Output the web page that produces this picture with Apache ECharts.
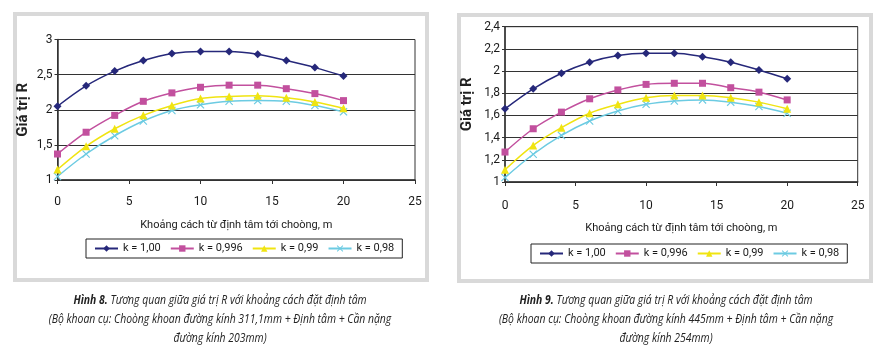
<!DOCTYPE html>
<html>
<head>
<meta charset="utf-8">
<script src="https://cdn.jsdelivr.net/npm/echarts@6/dist/echarts.min.js"></script>
<style>
  html, body { margin: 0; padding: 0; background: #fff; }
  #chart { width: 880px; height: 350px; }
</style>
</head>
<body>
<div id="chart"></div>
<script>
// khoảng cách (m)
const distances = [0, 2, 4, 6, 8, 10, 12, 14, 16, 18, 20];
const seriesNames = ['k = 1,00', 'k = 0,996', 'k = 0,99', 'k = 0,98'];

// Hình 8
const h8_k100 = [2.05, 2.34, 2.55, 2.70, 2.80, 2.83, 2.83, 2.79, 2.70, 2.60, 2.48];
const h8_k0996 = [1.37, 1.68, 1.92, 2.12, 2.24, 2.32, 2.35, 2.35, 2.30, 2.23, 2.13];
const h8_k099 = [1.15, 1.48, 1.73, 1.92, 2.06, 2.16, 2.19, 2.20, 2.17, 2.11, 2.02];
const h8_k098 = [1.05, 1.37, 1.63, 1.84, 1.99, 2.07, 2.12, 2.13, 2.12, 2.06, 1.97];

// Hình 9
const h9_k100 = [1.66, 1.84, 1.98, 2.08, 2.14, 2.16, 2.16, 2.13, 2.08, 2.01, 1.93];
const h9_k0996 = [1.27, 1.48, 1.63, 1.75, 1.83, 1.88, 1.89, 1.89, 1.85, 1.81, 1.74];
const h9_k099 = [1.11, 1.33, 1.49, 1.62, 1.70, 1.76, 1.78, 1.78, 1.76, 1.72, 1.66];
const h9_k098 = [1.04, 1.25, 1.42, 1.55, 1.64, 1.70, 1.73, 1.74, 1.72, 1.68, 1.62];

const colors = ['#26287a', '#c2509e', '#f0e411', '#6ccbe2'];
const symbols = [
  'diamond',
  'rect',
  'triangle',
  'path://M0,1L1,0L5,4L9,0L10,1L6,5L10,9L9,10L5,6L1,10L0,9L4,5Z'
];
const symbolSizes = [8, 7, 8, 8];

const font = 'Roboto, "Liberation Sans", sans-serif';
const textColor = '#1a1a1a';

function fmt(v) {
  return String(Number(v.toFixed(2))).replace('.', ',');
}

function makeSeries(list, idx) {
  return list.map(function (vals, i) {
    return {
      name: seriesNames[i],
      type: 'line',
      xAxisIndex: idx,
      yAxisIndex: idx,
      data: distances.map(function (d, j) { return [d, vals[j]]; }),
      smooth: 0.35,
      symbol: symbols[i],
      symbolSize: symbolSizes[i],
      showSymbol: true,
      lineStyle: { color: colors[i], width: 1.5 },
      itemStyle: { color: colors[i] },
      animation: false,
      z: 10 - i
    };
  });
}

function xAxisCfg(idx, margin, gap) {
  return {
    gridIndex: idx,
    type: 'value',
    min: 0, max: 25, interval: 5,
    name: 'Khoảng cách từ định tâm tới choòng, m',
    nameLocation: 'middle',
    nameGap: gap,
    nameTextStyle: { fontFamily: font, fontSize: 11, color: textColor },
    axisLine: { lineStyle: { color: '#333', width: 1.5 } },
    axisTick: { show: true, inside: false, length: 4, lineStyle: { color: '#333' } },
    axisLabel: { fontFamily: font, fontSize: 12, color: textColor, margin: margin },
    splitLine: { show: false }
  };
}

function yAxisCfg(idx, min, max, interval, gap) {
  return {
    gridIndex: idx,
    type: 'value',
    min: min, max: max, interval: interval,
    name: 'Giá trị R',
    nameLocation: 'middle',
    nameRotate: 90,
    nameGap: gap,
    nameTextStyle: { fontFamily: font, fontSize: 15, fontWeight: 'bold', color: '#222' },
    axisLine: { show: true, lineStyle: { color: '#333', width: 1.5 } },
    axisTick: { show: true, length: 3, lineStyle: { color: '#333' } },
    axisLabel: { fontFamily: font, fontSize: 12, color: textColor, margin: 5, formatter: fmt },
    splitLine: { show: true, lineStyle: { color: '#333', width: 1 } }
  };
}

function legendCfg(idx, left, top) {
  return {
    left: left,
    top: top,
    width: 340,
    data: seriesNames,
    orient: 'horizontal',
    itemWidth: 23,
    itemHeight: 8,
    itemGap: 9,
    padding: [4, 8],
    borderColor: '#222',
    borderWidth: 1,
    textStyle: { fontFamily: font, fontSize: 11, color: textColor },
    selectedMode: false
  };
}

const captionFont = 'italic 13px "Open Sans", sans-serif';
function captionLines(cx, top, num, dia1, dia2) {
  const lines = [
    '{b|Hình ' + num + '.} Tương quan giữa giá trị R với khoảng cách đặt định tâm',
    '(Bộ khoan cụ: Choòng khoan đường kính ' + dia1 + ' + Định tâm + Cần nặng',
    'đường kính ' + dia2 + ')'
  ];
  return lines.map(function (t, i) {
    return {
      type: 'text',
      x: cx,
      y: top + i * 19,
      scaleX: 0.8,
      style: {
        text: t,
        font: captionFont,
        fill: '#222',
        textAlign: 'center',
        textVerticalAlign: 'middle',
        rich: {
          b: { font: 'italic bold 13px "Open Sans", sans-serif', fill: '#222' }
        }
      }
    };
  });
}

const chart = echarts.init(document.getElementById('chart'), null, { renderer: 'canvas' });

const option = {
  backgroundColor: '#fff',
  animation: false,
  grid: [
    { left: 57.5, right: 465, top: 39.5, bottom: 170, show: true, borderColor: '#333', borderWidth: 1, containLabel: false },
    { left: 505, right: 22.3, top: 26.7, bottom: 168, show: true, borderColor: '#333', borderWidth: 1, containLabel: false }
  ],
  xAxis: [xAxisCfg(0, 16, 40), xAxisCfg(1, 18, 41)],
  yAxis: [yAxisCfg(0, 1, 3, 0.5, 27), yAxisCfg(1, 1, 2.4, 0.2, 30)],
  legend: [legendCfg(0, 86, 239), legendCfg(1, 531, 244)],
  series: makeSeries([h8_k100, h8_k0996, h8_k099, h8_k098], 0)
    .concat(makeSeries([h9_k100, h9_k0996, h9_k099, h9_k098], 1)),
  graphic: [
    { type: 'rect', shape: { x: 15, y: 14, width: 412, height: 266 }, style: { fill: 'none', stroke: '#d9d9d9', lineWidth: 4 }, z: -1 },
    { type: 'rect', shape: { x: 459, y: 15, width: 412, height: 266 }, style: { fill: 'none', stroke: '#d9d9d9', lineWidth: 4 }, z: -1 }
  ].concat(captionLines(220, 300, 8, '311,1mm', '203mm'))
   .concat(captionLines(666, 300, 9, '445mm', '254mm'))
};

chart.setOption(option);
</script>
</body>
</html>
